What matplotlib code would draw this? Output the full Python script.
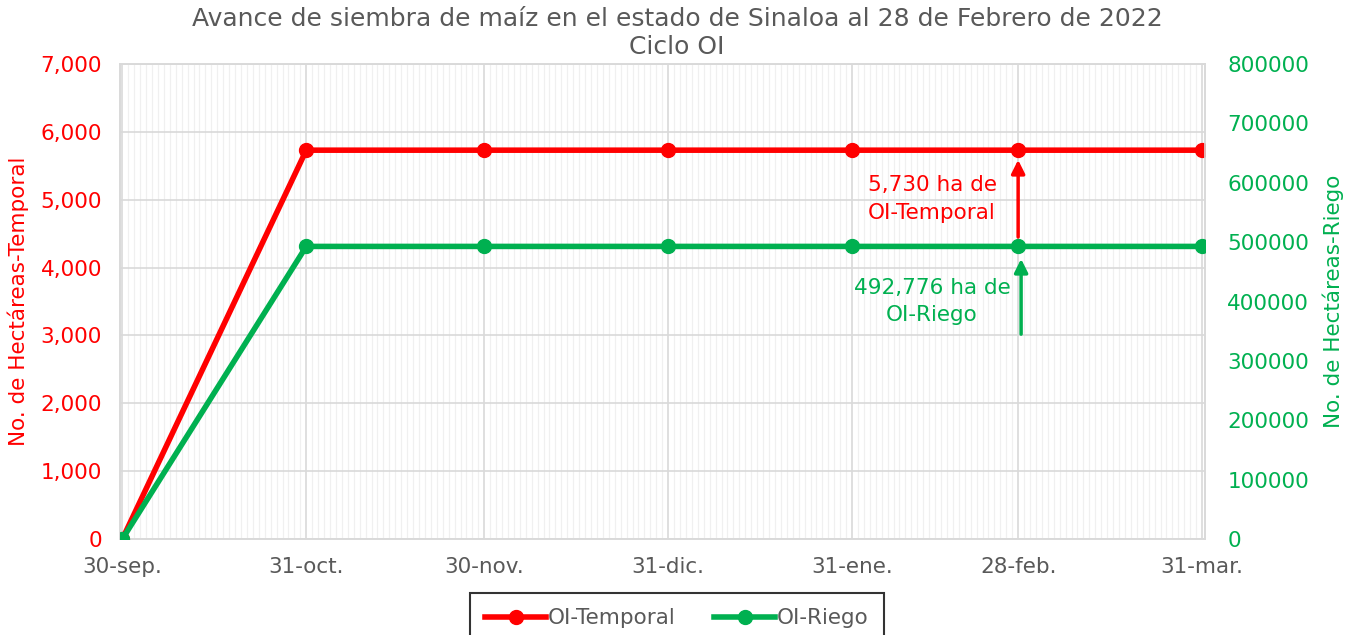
import matplotlib
matplotlib.use("Agg")
import matplotlib.pyplot as plt
import matplotlib.dates as mdates
from matplotlib.ticker import FuncFormatter, MultipleLocator
import numpy as np
import datetime as dt

plt.rcParams['font.family'] = ['DejaVu Sans']

dates = ["2021-09-30", "2021-10-31", "2021-11-30", "2021-12-31", "2022-01-31", "2022-02-28", "2022-03-31"]
tick_labels = ["30-sep.", "31-oct.", "30-nov.", "31-dic.", "31-ene.", "28-feb.", "31-mar."]
temporal = [0, 5730, 5730, 5730, 5730, 5730, 5730]
riego = [0, 492776, 492776, 492776, 492776, 492776, 492776]

x = [dt.datetime.strptime(d, "%Y-%m-%d") for d in dates]
RED = "#FF0000"
GREEN = "#00B050"
GREY = "#595959"
FS = 15.5

fig = plt.figure(figsize=(13.6, 6.35), dpi=100)
ax = fig.add_axes([120/1360, 1-539/635, 1085/1360, 475/635])
ax2 = ax.twinx()

ax.set_xlim(x[0] - dt.timedelta(days=0.4), x[-1] + dt.timedelta(days=0.5))
ax.set_ylim(0, 7000)
ax2.set_ylim(0, 800000)

ax.set_xticks(x)
ax.set_xticklabels(tick_labels)
ax.xaxis.set_minor_locator(mdates.DayLocator())
ax.yaxis.set_major_locator(MultipleLocator(1000))
ax2.yaxis.set_major_locator(MultipleLocator(100000))
ax.yaxis.set_major_formatter(FuncFormatter(lambda v, p: f"{int(v):,}"))
ax2.yaxis.set_major_formatter(FuncFormatter(lambda v, p: f"{int(v)}"))

ax.grid(which='major', axis='both', color='#D9D9D9', linewidth=1.2)
ax.grid(which='minor', axis='x', color='#F0F0F0', linewidth=0.9)
ax.set_axisbelow(True)

for a in (ax, ax2):
    for s in a.spines.values():
        s.set_color('#D9D9D9')
        s.set_linewidth(1.2)
    a.tick_params(which='both', length=0)

ax.tick_params(axis='x', colors=GREY, labelsize=FS, pad=13)
ax.tick_params(axis='y', colors=RED, labelsize=FS, pad=13)
ax2.tick_params(axis='y', colors=GREEN, labelsize=FS, pad=16)

ax.set_ylabel("No. de Hectáreas-Temporal", color=RED, fontsize=FS, labelpad=8)
ax2.set_ylabel("No. de Hectáreas-Riego", color=GREEN, fontsize=FS, labelpad=10)

l1, = ax.plot(x, temporal, color=RED, linewidth=4, marker='o', markersize=10, label="OI-Temporal", zorder=5)
l2, = ax2.plot(x, riego, color=GREEN, linewidth=4, marker='o', markersize=10, label="OI-Riego", zorder=5)

fig.text(677/1360, 1-33/635, "Avance de siembra de maíz en el estado de Sinaloa al 28 de Febrero de 2022\nCiclo OI",
         ha='center', va='center', fontsize=18, color=GREY, linespacing=1.25)

# annotations
ax.annotate("", xy=(x[5], temporal[5]), xytext=(x[5], 4450),
            arrowprops=dict(arrowstyle='-|>', color=RED, lw=2.5, mutation_scale=20, shrinkA=0, shrinkB=7))
ax.text(x[5] - dt.timedelta(days=14.5), 5010, "5,730 ha de\nOI-Temporal", color=RED, fontsize=FS,
        ha='center', va='center', linespacing=1.45)
ax2.annotate("", xy=(x[5] + dt.timedelta(days=0.5), riego[5]), xytext=(x[5] + dt.timedelta(days=0.5), 345000),
             arrowprops=dict(arrowstyle='-|>', color=GREEN, lw=2.5, mutation_scale=20, shrinkA=0, shrinkB=9))
ax2.text(x[5] - dt.timedelta(days=14.5), 400000, "492,776 ha de\nOI-Riego", color=GREEN, fontsize=FS,
         ha='center', va='center', linespacing=1.45)

leg = fig.legend(handles=[l1, l2], loc='upper center', bbox_to_anchor=(677/1360, 1-593/635), ncol=2,
                 frameon=True, fontsize=FS, handlelength=2.8, columnspacing=1.8, fancybox=False,
                 handletextpad=0.1, borderpad=0.7, borderaxespad=0)
for t in leg.get_texts():
    t.set_color(GREY)
leg.get_frame().set_edgecolor('black')
leg.get_frame().set_linewidth(1.5)

fig.savefig("out.png", dpi=100)
